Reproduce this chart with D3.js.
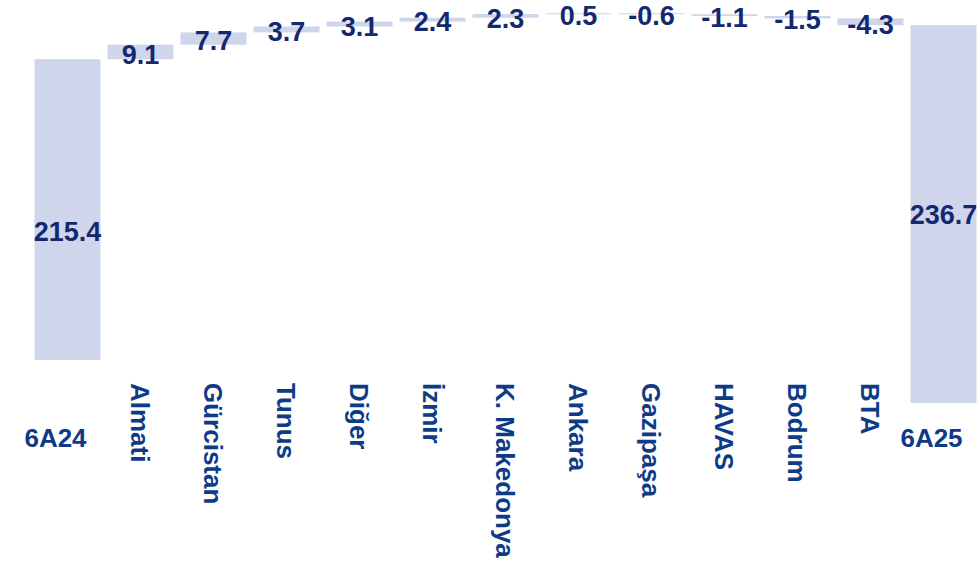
<!DOCTYPE html>
<html lang="tr">
<head>
    <meta charset="UTF-8">
    <title>waterfall</title>
    <style>
        body { margin: 0; background: #fff; }
        svg text { font-family: "Liberation Sans", Arial, sans-serif; font-weight: bold; }
        .bar { fill: #cfd5ea; }
        .val { fill: #14286e; font-size: 27px; }
        .cat { fill: #0e3b87; font-size: 26px; }
    </style>
</head>
<body>
    <div id="chart"></div>
    <script src="https://cdn.jsdelivr.net/npm/d3@7"></script>
    <script>

        var categories = ["6A24", "Almati", "Gürcistan", "Tunus", "Diğer", "İzmir", "K. Makedonya",
                          "Ankara", "Gazipaşa", "HAVAS", "Bodrum", "BTA", "6A25"];
        var values = [215.4, 9.1, 7.7, 3.7, 3.1, 2.4, 2.3, 0.5, -0.6, -1.1, -1.5, -4.3, 236.7];
        var isTotal = [true, false, false, false, false, false, false, false, false, false, false, false, true];
        // the first total bar is cut off above the axis in the original
        var firstBarFloor = 27;

        var width = 980,
            height = 567;

        // running start / end for each step
        var run = 0;
        var rows = categories.map(function(c, i) {
            var v = values[i], s, e;
            if (isTotal[i]) { s = 0; e = v; run = v; }
            else { s = run; e = run + v; run = e; }
            return { name: c, value: v, start: s, end: e, total: isTotal[i], i: i };
        });
        rows[0].start = firstBarFloor;

        var x = d3.scaleBand()
            .domain(categories)
            .range([31, 980])
            .paddingInner(0.096)
            .paddingOuter(0.048);

        var y = d3.scaleLinear()
            .domain([0, 250])
            .range([403, 4]);

        var svg = d3.select("#chart").append("svg")
            .attr("width", width)
            .attr("height", height);

        svg.append("g").selectAll("rect")
            .data(rows)
            .enter().append("rect")
            .attr("class", "bar")
            .attr("x", d => x(d.name))
            .attr("width", x.bandwidth())
            .attr("y", d => y(Math.max(d.start, d.end)))
            .attr("height", d => Math.max(1, Math.abs(y(d.start) - y(d.end))));

        // value labels
        svg.append("g").selectAll("text")
            .data(rows)
            .enter().append("text")
            .attr("class", "val")
            .attr("text-anchor", "middle")
            .attr("x", d => x(d.name) + x.bandwidth() / 2)
            .attr("y", function(d) {
                if (d.total) return (y(d.end) + y(0)) / 2;
                return (y(d.start) + y(d.end)) / 2 + 2;
            })
            .attr("dy", "0.36em")
            .text(d => d3.format(".1f")(d.value).replace("−", "-"));

        // category labels: totals flat, steps rotated
        var cats = svg.append("g");
        cats.selectAll("text.flat")
            .data(rows.filter(d => d.total))
            .enter().append("text")
            .attr("class", "cat flat")
            .attr("text-anchor", "middle")
            .attr("x", d => x(d.name) + x.bandwidth() / 2 - 12)
            .attr("y", 447)
            .text(d => d.name);

        cats.selectAll("text.rot")
            .data(rows.filter(d => !d.total))
            .enter().append("text")
            .attr("class", "cat rot")
            .attr("text-anchor", "start")
            .attr("transform", d => "translate(" + (x(d.name) + x.bandwidth() / 2) + ",383) rotate(90)")
            .attr("dy", "0.36em")
            .text(d => d.name);
    </script>
</body>
</html>
